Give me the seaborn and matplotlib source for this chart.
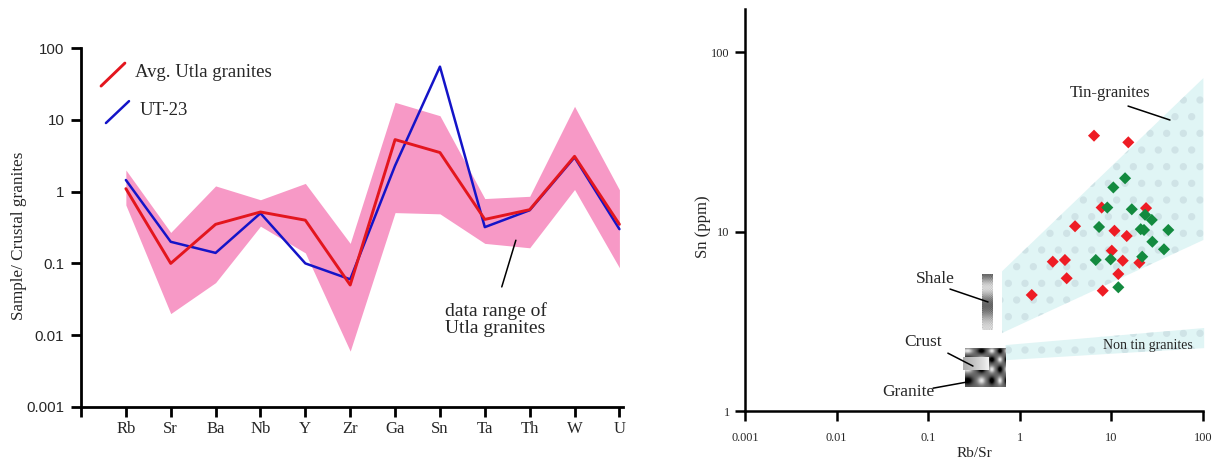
import numpy as np
import pandas as pd
import matplotlib
matplotlib.use("Agg")
import matplotlib.pyplot as plt
import seaborn as sns
from matplotlib.patches import Polygon

sns.set_theme(style="ticks")
plt.rcParams["font.family"] = ["Liberation Serif", "DejaVu Serif"]
plt.rcParams["hatch.linewidth"] = 2.8

# ---------------- left panel data ----------------
elements = ["Rb", "Sr", "Ba", "Nb", "Y", "Zr", "Ga", "Sn", "Ta", "Th", "W", "U"]
avg_utla = [1.1, 0.1, 0.35, 0.52, 0.4, 0.05, 5.3, 3.5, 0.41, 0.56, 3.1, 0.35]
ut23 = [1.45, 0.2, 0.14, 0.5, 0.1, 0.06, 2.3, 55, 0.32, 0.55, 3.0, 0.3]
range_upper = [2.0, 0.27, 1.2, 0.77, 1.3, 0.19, 17.5, 11.4, 0.8, 0.86, 15.4, 1.06]
range_lower = [0.65, 0.02, 0.054, 0.33, 0.14, 0.006, 0.51, 0.49, 0.19, 0.165, 1.07, 0.087]
left_yticks = [0.001, 0.01, 0.1, 1, 10, 100]
left_yticklabels = ["0.001", "0.01", "0.1", "1", "10", "100"]

# ---------------- right panel data ----------------
red_rbsr = [6.46, 15.3, 7.83, 23.9, 4.01, 10.8, 14.7, 10.1, 13.3, 20.2, 2.29, 3.11, 3.25, 11.9, 8.04, 1.35]
red_sn = [34.2, 31.4, 13.6, 13.5, 10.7, 10.1, 9.44, 7.82, 6.88, 6.70, 6.79, 6.94, 5.49, 5.80, 4.68, 4.43]
green_rbsr = [14.1, 10.5, 9.02, 16.7, 23.3, 27.6, 7.33, 20.9, 22.7, 41.8, 28.0, 37.5, 6.75, 9.82, 21.7, 11.9]
green_sn = [19.8, 17.6, 13.6, 13.3, 12.4, 11.6, 10.6, 10.3, 10.2, 10.2, 8.77, 7.96, 6.94, 7.0, 7.24, 4.89]
tin_field_rbsr = [0.64, 101, 101, 0.64]
tin_field_sn = [6.0, 71.6, 8.97, 2.72]
nontin_field_rbsr = [0.70, 103, 103, 0.70]
nontin_field_sn = [2.33, 2.9, 2.24, 1.92]
shale_box = [0.386, 0.51, 2.83, 5.87]
granite_box = [0.252, 0.72, 1.36, 2.27]
crust_box = [0.24, 0.47, 1.69, 2.0]
right_ticks_x = [0.001, 0.01, 0.1, 1, 10, 100]
right_ticklabels_x = ["0.001", "0.01", "0.1", "1", "10", "100"]
right_ticks_y = [1, 10, 100]
right_ticklabels_y = ["1", "10", "100"]

W, H = 1220, 463
fig = plt.figure(figsize=(W / 100, H / 100), dpi=100)

# ======================= LEFT =======================
ax1 = fig.add_axes([81 / W, 1 - 407 / H, 542 / W, 359 / H])
pos = np.arange(1, len(elements) + 1)
ax1.fill_between(pos, range_lower, range_upper, color="#f799c6", lw=0, zorder=1)
df_ut = pd.DataFrame({"pos": pos, "value": ut23})
df_avg = pd.DataFrame({"pos": pos, "value": avg_utla})
sns.lineplot(data=df_ut, x="pos", y="value", color="#1414c8", lw=1.8, ax=ax1,
             estimator=None, sort=False, zorder=3)
sns.lineplot(data=df_avg, x="pos", y="value", color="#e3161e", lw=2.1, ax=ax1,
             estimator=None, sort=False, zorder=4)
ax1.set_yscale("log")
ax1.set_ylim(0.001, 100)
ax1.set_xlim(0, 12.08)
ax1.set_xticks(np.concatenate([[0], pos]))
ax1.set_xticklabels([""] + elements, fontsize=12, family="Liberation Serif")
ax1.set_yticks(left_yticks)
ax1.set_yticklabels(left_yticklabels, fontsize=10.8, family="Liberation Sans")
ax1.minorticks_off()
ax1.set_xlabel("")
ax1.set_ylabel("")
for s in ["top", "right"]:
    ax1.spines[s].set_visible(False)
for s in ["left", "bottom"]:
    ax1.spines[s].set_linewidth(2.0)
    ax1.spines[s].set_color("black")
ax1.tick_params(axis="both", direction="out", width=2.0, length=7, color="black", pad=3)
ax1.tick_params(axis="y", pad=5)

fig.text(19 / W, 1 - 236 / H, "Sample/ Crustal granites", rotation=90, ha="center",
         va="center", fontsize=12.3, family="Liberation Serif")

# legend drawn as in original
ax1.plot([0.037, 0.081], [0.894, 0.958], color="#e3161e", lw=2.1, transform=ax1.transAxes, clip_on=False)
ax1.text(0.0996, 0.933, "Avg. Utla granites", transform=ax1.transAxes, fontsize=13.5,
         va="center", ha="left")
ax1.plot([0.046, 0.0886], [0.791, 0.852], color="#1414c8", lw=1.8, transform=ax1.transAxes, clip_on=False)
ax1.text(0.109, 0.825, "UT-23", transform=ax1.transAxes, fontsize=13.5, va="center", ha="left")

ax1.annotate("", xy=(9.71, 0.229), xytext=(9.36, 0.0432),
             arrowprops=dict(arrowstyle="-", color="black", lw=1.1))
ax1.text(9.24, 0.0165, "data range of\nUtla granites", fontsize=14, ha="center", va="center",
         linespacing=1.05)

# ======================= RIGHT =======================
ax2 = fig.add_axes([745 / W, 1 - 411 / H, 458 / W, 402 / H])
ax2.set_xscale("log")
ax2.set_yscale("log")

tin = Polygon(np.column_stack([tin_field_rbsr, tin_field_sn]), closed=True,
              facecolor="#e0f5f5", edgecolor="#cfe3e6", lw=0, hatch=".", zorder=1, clip_on=False)
ax2.add_patch(tin)
nontin = Polygon(np.column_stack([nontin_field_rbsr, nontin_field_sn]), closed=True,
                 facecolor="#e0f5f5", edgecolor="#cfe3e6", lw=0, hatch=".", zorder=1, clip_on=False)
ax2.add_patch(nontin)

# textures for shale / granite / crust
t = np.linspace(0, 1, 60)[:, None]
jj = np.arange(12)[None, :]
ii = np.arange(60)[:, None]
shale_img = 0.62 - 0.22 * np.cos(2 * np.pi * 1.5 * t) + 0.07 * (((ii + jj) % 2) * 2 - 1)
ax2.imshow(np.clip(shale_img, 0, 1), cmap="gray", vmin=0, vmax=1, aspect="auto",
           extent=shale_box, origin="upper", interpolation="bilinear", zorder=2)

gy, gx = np.mgrid[0:80, 0:84]
gran = np.full(gy.shape, 0.40)
for r in range(4):
    for c in range(5):
        cy, cx = 10 + 20 * r, 2 + 20 * c
        sign = 1 if (r + c) % 2 == 0 else -1
        gran += 0.5 * sign * np.exp(-((gy - cy) ** 2 + (gx - cx) ** 2) / (2 * 4.5 ** 2))
ax2.imshow(np.clip(gran, 0, 1), cmap="gray", vmin=0, vmax=1, aspect="auto",
           extent=granite_box, origin="upper", interpolation="bilinear", zorder=2)
crust_img = np.tile(np.linspace(0.68, 0.97, 30)[None, :], (10, 1))
ax2.imshow(crust_img, cmap="gray", vmin=0, vmax=1, aspect="auto",
           extent=crust_box, origin="upper", interpolation="bilinear", zorder=3)

df_pts = pd.DataFrame({
    "rbsr": red_rbsr + green_rbsr,
    "sn": red_sn + green_sn,
    "group": ["red"] * len(red_rbsr) + ["green"] * len(green_rbsr),
})
sns.scatterplot(data=df_pts, x="rbsr", y="sn", hue="group",
                palette={"red": "#ee1c24", "green": "#138a3f"}, marker="D", s=38,
                linewidth=0, ax=ax2, legend=False, zorder=5)

ax2.set_xlim(0.001, 100)
ax2.set_ylim(1, 173.7)
ax2.set_xticks(right_ticks_x)
ax2.set_xticklabels(right_ticklabels_x, fontsize=8.8)
ax2.set_yticks(right_ticks_y)
ax2.set_yticklabels(right_ticklabels_y, fontsize=8.8)
ax2.minorticks_off()
for s in ["top", "right"]:
    ax2.spines[s].set_visible(False)
for s in ["left", "bottom"]:
    ax2.spines[s].set_linewidth(1.8)
    ax2.spines[s].set_color("black")
ax2.tick_params(axis="both", direction="out", width=1.8, length=7, color="black")
ax2.tick_params(axis="x", pad=8)
ax2.tick_params(axis="y", pad=4)
ax2.set_xlabel("Rb/Sr", fontsize=11, labelpad=2)
ax2.set_ylabel("")
fig.text(703 / W, 1 - 227 / H, "Sn (ppm)", rotation=90, ha="center", va="center", fontsize=12)

ax2.text(9.66, 59.1, "Tin-granites", fontsize=12, ha="center", va="center")
ax2.plot([15.2, 43.6], [50.0, 41.8], color="black", lw=1.1)
ax2.text(25.1, 2.33, "Non tin granites", fontsize=10, ha="center", va="center", zorder=6)
ax2.text(0.119, 5.44, "Shale", fontsize=12.5, ha="center", va="center")
ax2.plot([0.173, 0.45], [4.78, 4.05], color="black", lw=1.1, zorder=4)
ax2.text(0.0877, 2.42, "Crust", fontsize=12.5, ha="center", va="center")
ax2.plot([0.164, 0.308], [2.10, 1.78], color="black", lw=1.1, zorder=4)
ax2.text(0.060, 1.28, "Granite", fontsize=12.5, ha="center", va="center")
ax2.plot([0.113, 0.265], [1.34, 1.45], color="black", lw=1.1, zorder=4)

fig.savefig("out.png", dpi=100, facecolor="white")
